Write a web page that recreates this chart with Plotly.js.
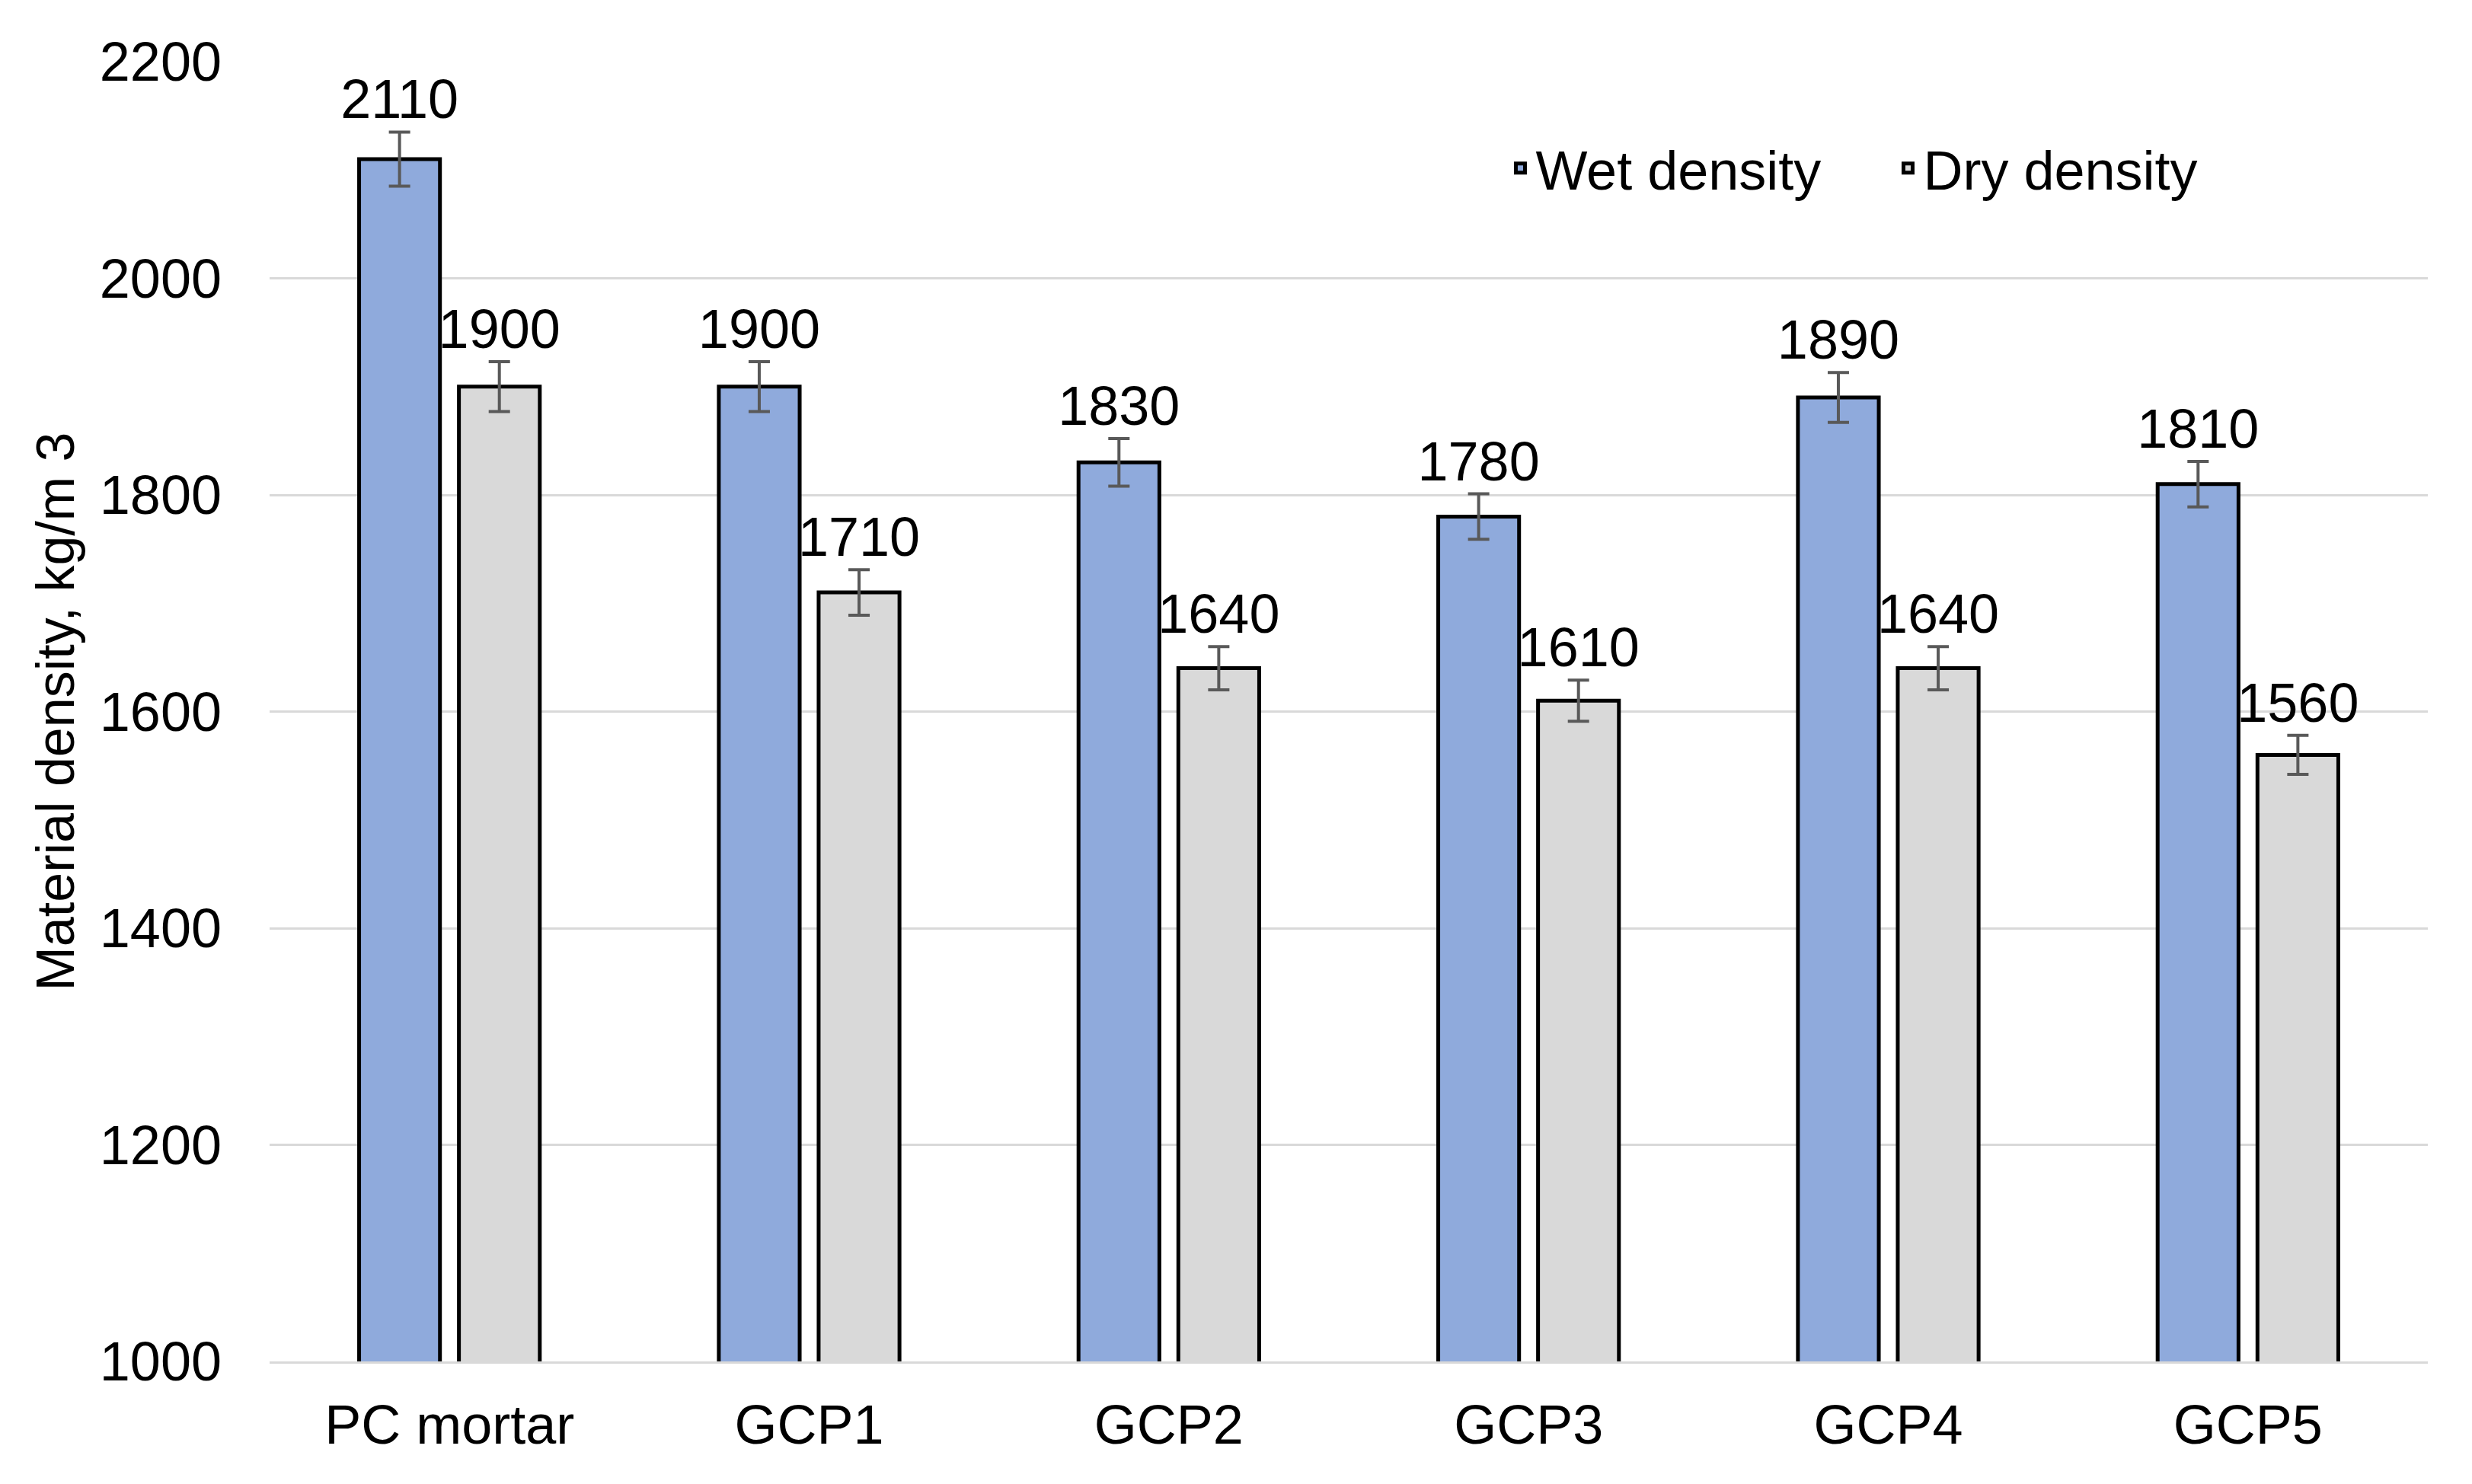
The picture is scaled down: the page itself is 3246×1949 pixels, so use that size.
<!DOCTYPE html>
<html>
<head>
<meta charset="utf-8">
<script src="https://cdn.plot.ly/plotly-3.0.1.min.js"></script>
<style>html,body{margin:0;padding:0;background:#fff;}#chart{width:3246px;height:1949px;}</style>
</head>
<body>
<div id="chart"></div>
<script>
const categories = ["PC mortar", "GCP1", "GCP2", "GCP3", "GCP4", "GCP5"];
const wetDensity = [2110, 1900, 1830, 1780, 1890, 1810];
const dryDensity = [1900, 1710, 1640, 1610, 1640, 1560];
const wetError = [25, 23, 22, 21, 23, 21];
const dryError = [23, 21, 20, 19, 20, 18];
const seriesNames = ["Wet density", "Dry density"];
const yTicks = [1000, 1200, 1400, 1600, 1800, 2000, 2200];

const FONT = '"Liberation Sans", Arial, sans-serif';
const FS = 72;
const GAP = 0.445;

function barTrace(name, vals, errs, color) {
  return {
    type: 'bar', name: name, x: categories, y: vals,
    marker: {color: color, line: {color: '#000000', width: 5}},
    error_y: {type: 'data', array: errs, visible: true, color: '#595959', thickness: 4, width: 14},
    hoverinfo: 'skip'
  };
}
function labelTrace(vals, errs) {
  return {
    type: 'scatter', mode: 'text', x: categories,
    y: vals.map((v, i) => v + errs[i]),
    text: vals.map(v => String(v)),
    textposition: 'top center',
    textfont: {family: FONT, size: FS, color: '#000000'},
    showlegend: false, hoverinfo: 'skip', cliponaxis: false
  };
}

const data = [
  barTrace(seriesNames[0], wetDensity, wetError, '#8FAADC'),
  barTrace(seriesNames[1], dryDensity, dryError, '#D9D9D9'),
  labelTrace(wetDensity, wetError),
  labelTrace(dryDensity, dryError)
];

const layout = {
  width: 3246, height: 1949,
  margin: {l: 354, r: 58, t: 81, b: 161, pad: 0},
  paper_bgcolor: '#ffffff', plot_bgcolor: '#ffffff',
  font: {family: FONT, size: FS, color: '#000000'},
  barmode: 'group', bargap: GAP, bargroupgap: 0.19,
  scattermode: 'group', scattergap: GAP,
  showlegend: true,
  legend: {
    orientation: 'h', x: 0.5725, xanchor: 'left', y: 0.918, yanchor: 'middle',
    font: {family: FONT, size: FS, color: '#000000'},
    bgcolor: 'rgba(0,0,0,0)', borderwidth: 0,
    entrywidth: 464, entrywidthmode: 'pixels', traceorder: 'normal'
  },
  xaxis: {
    type: 'category', range: [-0.5, 5.5],
    showgrid: false, zeroline: false,
    showline: true, linecolor: '#D9D9D9', linewidth: 3,
    ticks: '', ticklabelstandoff: 19,
    tickfont: {family: FONT, size: FS, color: '#000000'}
  },
  yaxis: {
    range: [1000, 2200], tickvals: yTicks, ticktext: yTicks.map(String),
    showgrid: true, gridcolor: '#D9D9D9', gridwidth: 3,
    zeroline: false, showline: false, ticks: '', ticklabelstandoff: 62,
    tickfont: {family: FONT, size: FS, color: '#000000'},
    title: {text: 'Material density, kg/m 3', standoff: 10, font: {family: FONT, size: 70, color: '#000000'}}
  }
};

Plotly.newPlot('chart', data, layout, {displayModeBar: false, staticPlot: true});
</script>
</body>
</html>
